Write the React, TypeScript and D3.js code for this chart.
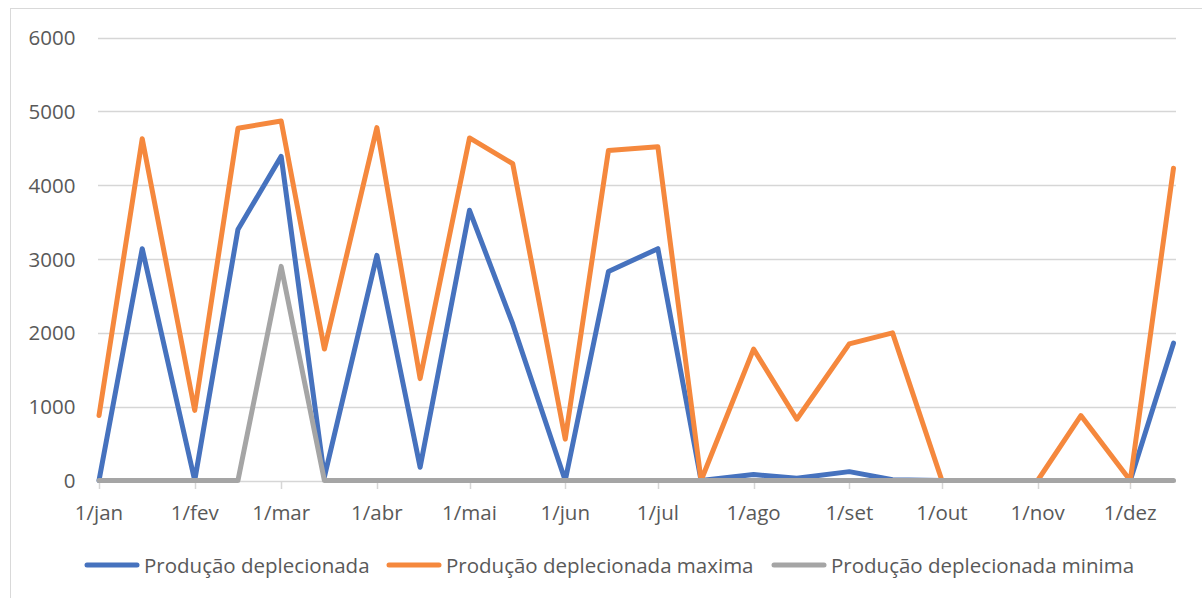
import React, { useEffect, useRef } from "react";
import * as d3 from "d3";

// months as labelled on the axis (pt-BR)
const months = ["jan", "fev", "mar", "abr", "mai", "jun", "jul", "ago", "set", "out", "nov", "dez"];
// sample days: 1st and 15th of every month
const sampleDays = [1, 15];

const producao = [0, 3140, 0, 3400, 4390, 50, 3050, 180, 3660, 2120, 0, 2830, 3140, 0, 80, 30, 120, 10, 0, 0, 0, 0, 0, 1860];
const producaoMax = [880, 4630, 950, 4770, 4870, 1780, 4780, 1380, 4640, 4290, 560, 4470, 4520, 0, 1780, 830, 1850, 2000, 0, 0, 0, 880, 0, 4230];
const producaoMin = [0, 0, 0, 0, 2900, 0, 0, 0, 0, 0, 0, 0, 0, 0, 0, 0, 0, 0, 0, 0, 0, 0, 0, 0];

const yTicks = [0, 1000, 2000, 3000, 4000, 5000, 6000];

const seriesNames = ["Produção deplecionada", "Produção deplecionada maxima", "Produção deplecionada minima"];
const seriesColors = ["#4672BE", "#F5883D", "#A5A5A5"];

const W = 1202;
const H = 598;

const App = () => {
  const ref = useRef<SVGSVGElement>(null);

  useEffect(() => {
    const svg = d3.select(ref.current);
    svg.selectAll("*").remove();

    const dates: Date[] = [];
    months.forEach((_, m) => sampleDays.forEach((d) => dates.push(new Date(2021, m, d))));
    const monthStarts = months.map((_, m) => new Date(2021, m, 1));

    const x = d3
      .scaleTime()
      .domain([new Date(2021, 0, 1), new Date(2021, 11, 15)])
      .range([99, 1173.5]);
    const y = d3.scaleLinear().domain([0, 6000]).range([480.5, 37.5]);

    const font = "'Open Sans', sans-serif";
    const textColor = "#595959";

    // chart area border (extends past the picture on right / bottom)
    svg
      .append("rect")
      .attr("x", 10.5)
      .attr("y", 8.5)
      .attr("width", 1400)
      .attr("height", 800)
      .attr("fill", "#fff")
      .attr("stroke", "#d9d9d9");

    // gridlines
    svg
      .append("g")
      .selectAll("line")
      .data(yTicks)
      .join("line")
      .attr("x1", 98)
      .attr("x2", 1176)
      .attr("y1", (d) => Math.round(y(d)) + 0.5)
      .attr("y2", (d) => Math.round(y(d)) + 0.5)
      .attr("stroke", "#d6d6d6")
      .attr("stroke-width", 1.5);

    // y labels
    svg
      .append("g")
      .selectAll("text")
      .data(yTicks)
      .join("text")
      .attr("x", 75.5)
      .attr("y", (d) => y(d) + 7.5)
      .attr("text-anchor", "end")
      .style("font-family", font)
      .style("font-size", "20.5px")
      .style("fill", textColor)
      .text((d) => d);

    // x ticks + labels
    const xg = svg.append("g");
    xg.selectAll("line")
      .data(monthStarts)
      .join("line")
      .attr("x1", (d) => Math.round(x(d)) + 0.5)
      .attr("x2", (d) => Math.round(x(d)) + 0.5)
      .attr("y1", 481)
      .attr("y2", 489)
      .attr("stroke", "#d6d6d6")
      .attr("stroke-width", 1.5);
    xg.selectAll("text")
      .data(monthStarts)
      .join("text")
      .attr("x", (d) => x(d))
      .attr("y", 519.5)
      .attr("text-anchor", "middle")
      .style("font-family", font)
      .style("font-size", "20.5px")
      .style("fill", textColor)
      .text((d, i) => `1/${months[i]}`);

    // lines
    const line = d3
      .line<number>()
      .x((_, i) => x(dates[i]))
      .y((d) => y(d));

    [producao, producaoMax, producaoMin].forEach((s, k) => {
      svg
        .append("path")
        .attr("d", line(s))
        .attr("fill", "none")
        .attr("stroke", seriesColors[k])
        .attr("stroke-width", 5)
        .attr("stroke-linejoin", "round")
        .attr("stroke-linecap", "round");
    });

    // legend
    const legendX = [85, 387, 772];
    const lg = svg
      .append("g")
      .selectAll("g")
      .data(seriesNames)
      .join("g")
      .attr("transform", (d, i) => `translate(${legendX[i]},565)`);
    lg.append("line")
      .attr("x1", 2)
      .attr("x2", 52)
      .attr("stroke", (d, i) => seriesColors[i])
      .attr("stroke-width", 5)
      .attr("stroke-linecap", "round");
    lg.append("text")
      .attr("x", 59)
      .attr("y", 7.5)
      .style("font-family", font)
      .style("font-size", "20.5px")
      .style("fill", textColor)
      .text((d) => d);
  }, []);

  return (
    <svg
      ref={ref}
      width={W}
      height={H}
      style={{ position: "absolute", left: 0, top: 0, background: "#fff" }}
    />
  );
};

export default App;
